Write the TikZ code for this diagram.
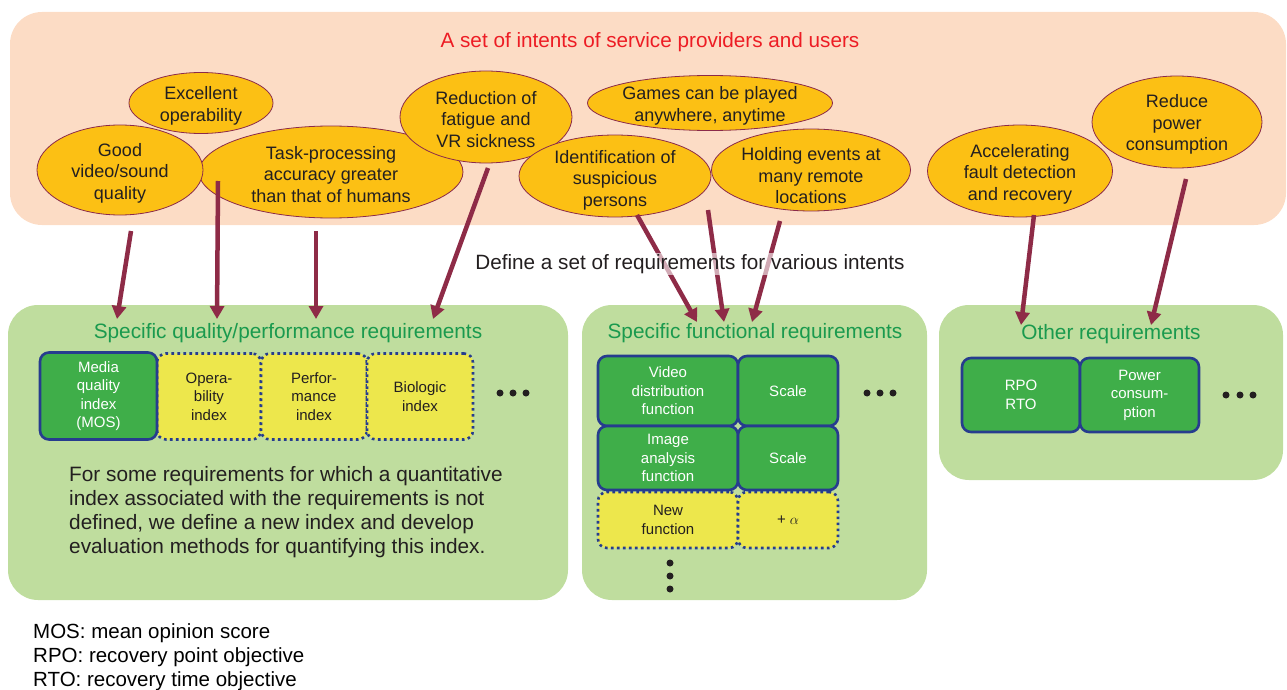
\documentclass[tikz,border=0pt]{standalone}
\usepackage{fontspec}
\setmainfont{Liberation Sans}
\usetikzlibrary{shapes.geometric,arrows.meta}
\definecolor{peach}{HTML}{FCDCC5}
\definecolor{ellfill}{HTML}{FCC014}
\definecolor{ellborder}{HTML}{8B2A4A}
\definecolor{arrowc}{HTML}{8E2B47}
\definecolor{panelg}{HTML}{BFDD9E}
\definecolor{boxg}{HTML}{3FAE49}
\definecolor{boxborder}{HTML}{263C8E}
\definecolor{boxy}{HTML}{EDE74C}
\definecolor{titlered}{HTML}{ED1C24}
\definecolor{titlegreen}{HTML}{1A9A4E}
\definecolor{txt}{HTML}{231F20}
\newcommand{\lowr}[1]{\rule{0pt}{#1}}
\begin{document}
\begin{tikzpicture}[x=1pt,y=-1pt,
  intent/.style={ellipse, draw=ellborder, line width=0.8pt, fill=ellfill, inner sep=-20pt,
    align=center, text=txt, font=\fontsize{18}{21.5}\selectfont},
  link/.style={draw=arrowc, line width=4.5pt, -{Triangle[length=13pt,width=14pt]}},
  panel/.style={fill=panelg, draw=none, rounded corners=30pt},
  gbox/.style={rectangle, rounded corners=9pt, draw=boxborder, line width=2.6pt, fill=boxg,
    text=white, align=center, inner sep=0pt, font=\fontsize{15}{18.5}\selectfont},
  ybox/.style={rectangle, rounded corners=9pt, draw=boxborder, line width=2.6pt,
    dash pattern=on 2.6pt off 3.4pt, fill=boxy,
    text=txt, align=center, inner sep=0pt, font=\fontsize{15}{18.5}\selectfont},
  ptitle/.style={text=titlegreen, inner sep=0pt, font=\fontsize{20.8}{24}\selectfont},
  dot/.style={circle, fill=txt, inner sep=0pt, minimum size=7pt}
]
\useasboundingbox (0,0) rectangle (1287,690);

% top band
\fill[peach, rounded corners=32pt] (10,12) rectangle (1286,225);
\node[text=titlered, inner sep=0pt, font=\fontsize{20.7}{24}\selectfont] (title) at (650,42)
  {A set of intents of service providers and users};

% intents
\node[intent, minimum width=264pt, minimum height=92pt] (task) at (331,172)
  {\lowr{18pt}Task-processing\\accuracy greater\\than that of humans};
\node[intent, minimum width=166pt, minimum height=90pt] (good) at (120,170)
  {\lowr{19pt}Good\\video/sound\\quality};
\node[intent, minimum width=144pt, minimum height=61pt] (excel) at (201,103)
  {\lowr{19pt}Excellent\\operability};
\node[intent, minimum width=172pt, minimum height=92pt] (fatigue) at (486,117)
  {\lowr{18pt}Reduction of\\fatigue and\\VR sickness};
\node[intent, minimum width=245pt, minimum height=55pt] (games) at (710,103)
  {\lowr{19pt}Games can be played\\anywhere, anytime};
\node[intent, minimum width=192pt, minimum height=82pt] (ident) at (615,176)
  {\lowr{21pt}Identification of\\suspicious\\persons};
\node[intent, minimum width=199pt, minimum height=82pt] (events) at (811,170)
  {\lowr{25pt}Holding events at\\many remote\\locations};
\node[intent, minimum width=185pt, minimum height=92pt] (fault) at (1020,171)
  {\lowr{19pt}Accelerating\\fault detection\\and recovery};
\node[intent, minimum width=170pt, minimum height=92pt] (power) at (1177,122)
  {\lowr{18pt}Reduce\\power\\consumption};

% panels
\fill[panel] (8,305) rectangle (568,600);
\fill[panel] (582,305) rectangle (927,600);
\fill[panel] (939,305) rectangle (1283,480);

\node[ptitle] (t1) at (288,333) {Specific quality/performance requirements};
\node[ptitle] (t2) at (755,333) {Specific functional requirements};
\node[ptitle] (t3) at (1111,334) {Other requirements};

% panel 1 boxes
\node[ybox, minimum width=104pt, minimum height=86pt] (oper) at (209,396.5) {Opera-\\bility\\index};
\node[ybox, minimum width=106pt, minimum height=86pt] (perf) at (314,396.5) {Perfor-\\mance\\index};
\node[ybox, minimum width=106pt, minimum height=86pt] (bio) at (420,396.5) {Biologic\\index};
\node[gbox, minimum width=117pt, minimum height=87pt] (media) at (98.5,396) {Media\\quality\\index\\(MOS)};
\node[dot] (d1a) at (500,393) {};
\node[dot] (d1b) at (513,393) {};
\node[dot] (d1c) at (526,393) {};

\node[anchor=north west, inner sep=0pt, align=left, text=txt,
  font=\fontsize{20.8}{24}\selectfont] (para) at (69,466)
  {For some requirements for which a quantitative\\
   index associated with the requirements is not\\
   defined, we define a new index and develop\\
   evaluation methods for quantifying this index.};

% panel 2 boxes
\node[gbox, minimum width=140pt, minimum height=70pt] (video) at (668,391) {Video\\distribution\\function};
\node[gbox, minimum width=100pt, minimum height=70pt] (scale1) at (788,391) {Scale};
\node[gbox, minimum width=140pt, minimum height=64pt] (image) at (668,458) {Image\\analysis\\function};
\node[gbox, minimum width=100pt, minimum height=64pt] (scale2) at (788,458) {Scale};
\node[ybox, minimum width=140pt, minimum height=56pt] (newf) at (668,520) {New\\function};
\node[ybox, minimum width=100pt, minimum height=56pt] (alpha) at (788,520) {+ $\alpha$};
\node[dot] (d2a) at (867,393) {};
\node[dot] (d2b) at (880,393) {};
\node[dot] (d2c) at (893,393) {};
\node[dot] (d3a) at (670,563) {};
\node[dot] (d3b) at (670,576) {};
\node[dot] (d3c) at (670,589) {};

% panel 3 boxes
\node[gbox, minimum width=118pt, minimum height=74pt] (rpo) at (1021,395) {RPO\\RTO};
\node[gbox, minimum width=119pt, minimum height=74pt] (pcons) at (1139.5,395) {Power\\consum-\\ption};
\node[dot] (d4a) at (1226,395) {};
\node[dot] (d4b) at (1240,395) {};
\node[dot] (d4c) at (1253,395) {};

% connector coordinates
\coordinate (s1) at (131,231);
\coordinate (e1) at (117,319);
\coordinate (s2) at (218,181);
\coordinate (e2) at (217,319);
\coordinate (s3) at (316,231);
\coordinate (e3) at (316,319);
\coordinate (s4) at (488,168);
\coordinate (e4) at (433,319);
\coordinate (s5) at (637,215);
\coordinate (e5) at (697,322);
\coordinate (s6) at (708,210);
\coordinate (e6) at (724,322);
\coordinate (s7) at (780,221);
\coordinate (e7) at (752,322);
\coordinate (s8) at (1034,215);
\coordinate (e8) at (1021,325);
\coordinate (s9) at (1186,179);
\coordinate (e9) at (1151,325);

\draw[link] (s1) -- (e1);
\draw[link] (s2) -- (e2);
\draw[link] (s3) -- (e3);
\draw[link] (s4) -- (e4);
\draw[link] (s5) -- (e5);
\draw[link] (s6) -- (e6);
\draw[link] (s7) -- (e7);
\draw[link] (s8) -- (e8);
\draw[link] (s9) -- (e9);

\node[fill=white, fill opacity=0.6, text opacity=1, text=txt, inner sep=1pt,
  font=\fontsize{20.7}{24}\selectfont] (define) at (690,264)
  {Define a set of requirements for various intents};

% legend
\node[anchor=north west, inner sep=0pt, align=left, text=black,
  font=\fontsize{20.5}{24}\selectfont] (legend) at (33,623)
  {MOS: mean opinion score\\RPO: recovery point objective\\RTO: recovery time objective};
\end{tikzpicture}
\end{document}
